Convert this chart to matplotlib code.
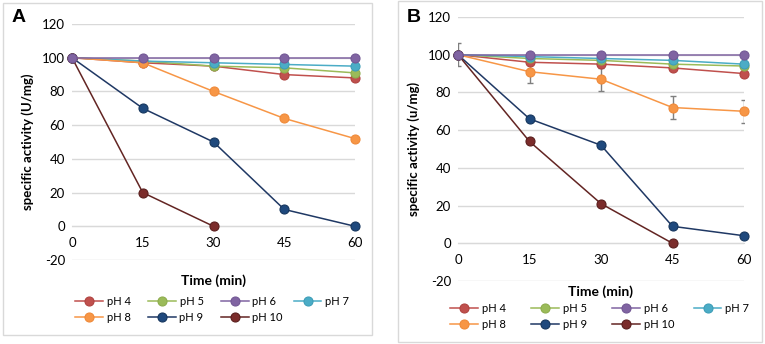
import matplotlib.pyplot as plt
from matplotlib.patches import Rectangle

plt.rcParams['font.family'] = ['Lato', 'DejaVu Sans']
plt.rcParams['axes.unicode_minus'] = False

time = [0, 15, 30, 45, 60]
labels = ['pH 4', 'pH 5', 'pH 6', 'pH 7', 'pH 8', 'pH 9', 'pH 10']

# panel A
a_ph4 = [100, 97, 95, 90, 88]
a_ph5 = [100, 98, 95, 94, 91]
a_ph6 = [100, 100, 100, 100, 100]
a_ph7 = [100, 98, 97, 96, 95]
a_ph8 = [100, 97, 80, 64, 52]
a_ph9 = [100, 70, 50, 10, 0]
a_ph10 = [100, 20, 0]

# panel B
b_ph4 = [100, 96, 95, 93, 90]
b_ph5 = [100, 98, 97, 95, 94]
b_ph6 = [100, 100, 100, 100, 100]
b_ph7 = [100, 99, 98, 97, 95]
b_ph8 = [100, 91, 87, 72, 70]
b_ph8_err = [6, 6, 6, 6, 6]
b_ph9 = [100, 66, 52, 9, 4]
b_ph10 = [100, 54, 21, 0]

yticks = [-20, 0, 20, 40, 60, 80, 100, 120]

line_cols = ['#C0504D', '#9BBB59', '#8064A2', '#4BACC6', '#F79646', '#1F3864', '#632523']
mark_cols = ['#C0504D', '#9BBB59', '#8064A2', '#4BACC6', '#F79646', '#1F497D', '#7B2C2B']
edge_cols = ['#B04441', '#8EAD4E', '#735895', '#3E9EB8', '#EF8A3A', '#17375E', '#5A1F1E']

fig = plt.figure(figsize=(7.65, 3.44), dpi=100)

# panel frames
fig.patches.append(Rectangle((3 / 765, 1 - 335 / 344), 369 / 765, 332 / 344,
                             transform=fig.transFigure, fill=False,
                             edgecolor='#D9D9D9', linewidth=1))
fig.patches.append(Rectangle((398 / 765, 1 - 342 / 344), 364 / 765, 341 / 344,
                             transform=fig.transFigure, fill=False,
                             edgecolor='#D9D9D9', linewidth=1))


def panel(ax, series, ylabel, err=None):
    for i, ys in enumerate(series):
        ax.plot(time[:len(ys)], ys, color=line_cols[i], linewidth=1.1,
                marker='o', markersize=6.5, markerfacecolor=mark_cols[i],
                markeredgecolor=edge_cols[i], markeredgewidth=0.8,
                label=labels[i], zorder=3 + i * 0.01 if i != 2 else 4,
                clip_on=False)
    if err is not None:
        ax.errorbar(time, series[4], yerr=err, fmt='none', ecolor='#7F7F7F',
                    elinewidth=1, capsize=2.5, capthick=1, zorder=2)
    ax.set_xlim(0, 60)
    ax.set_ylim(-20, 120)
    ax.set_xticks(time)
    ax.set_yticks(yticks)
    ax.grid(axis='y', color='#D9D9D9', linewidth=1)
    ax.set_axisbelow(True)
    for s in ['top', 'right', 'left']:
        ax.spines[s].set_visible(False)
    ax.spines['bottom'].set_position(('data', 0))
    ax.spines['bottom'].set_color('#D9D9D9')
    ax.tick_params(length=0, labelsize=9.5, colors='black', pad=5)
    ax.tick_params(axis='x', pad=8)
    ax.set_ylabel(ylabel, fontsize=9.5, fontweight='bold', labelpad=6)


def add_legend(ax, left_px, top_px, spacing):
    # two legends, one per row, so the columns keep an even pitch
    h, l = ax.get_legend_handles_labels()
    kw = dict(loc='upper left', bbox_transform=fig.transFigure, ncol=4,
              borderpad=0, borderaxespad=0, frameon=False, fontsize=8,
              handlelength=2.5, columnspacing=spacing, handletextpad=0.35)
    top = ax.legend(h[:4], l[:4], bbox_to_anchor=(left_px / 765, 1 - top_px / 344), **kw)
    ax.add_artist(top)
    ax.legend(h[4:], l[4:], bbox_to_anchor=(left_px / 765, 1 - (top_px + 16) / 344), **kw)


axA = fig.add_axes([72 / 765, 1 - 260 / 344, 283 / 765, 236 / 344])
panel(axA, [a_ph4, a_ph5, a_ph6, a_ph7, a_ph8, a_ph9, a_ph10],
      'specific activity (U/mg)')
axA.set_xlabel('Time (min)', fontsize=10, fontweight='bold')
axA.xaxis.set_label_coords(0.5, -0.06)
add_legend(axA, 75, 296, 1.55)
fig.text(12 / 765, 1 - 17 / 344, 'A', fontsize=14, fontweight='bold',
         va='center', ha='left', family='Liberation Sans')

axB = fig.add_axes([458 / 765, 1 - 281 / 344, 286 / 765, 264 / 344])
panel(axB, [b_ph4, b_ph5, b_ph6, b_ph7, b_ph8, b_ph9, b_ph10],
      'specific activity (u/mg)', err=b_ph8_err)
axB.set_xlabel('Time (min)', fontsize=10, fontweight='bold')
axB.xaxis.set_label_coords(0.5, -0.015)
add_legend(axB, 450, 303, 2.3)
fig.text(407 / 765, 1 - 17 / 344, 'B', fontsize=14, fontweight='bold',
         va='center', ha='left', family='Liberation Sans')

fig.savefig('out.png', dpi=100)
